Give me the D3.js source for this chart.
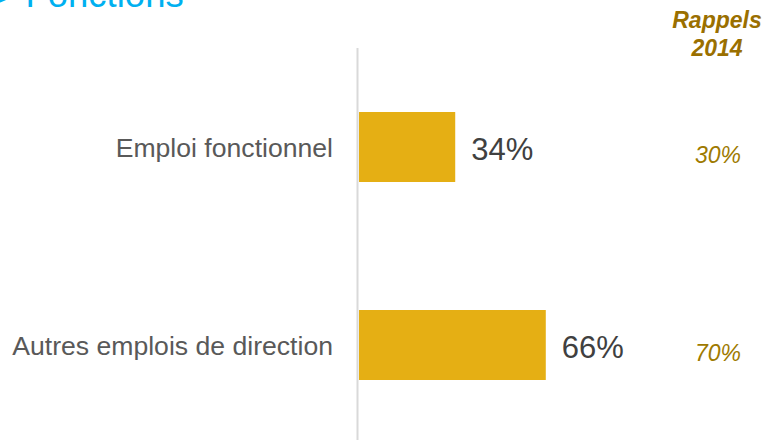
<!DOCTYPE html>
<html><head><meta charset="utf-8">
<script src="https://cdn.jsdelivr.net/npm/d3@7"></script>
<style>html,body{margin:0;padding:0;background:#fff;}svg{display:block;}</style>
</head><body>
<script>
const categories = ["Emploi fonctionnel", "Autres emplois de direction"];
const values2019 = [34, 66];
const rappels2014 = [30, 70];
const rappelsTitle = ["Rappels", "2014"];
const title = "> Fonctions";

const W = 767, H = 440;
const svg = d3.select("body").append("svg").attr("width", W).attr("height", H);
const font = "Arial, 'Liberation Sans', sans-serif";

const x = d3.scaleLinear().domain([0, 100]).range([359, 642]);
const y = d3.scaleBand().domain(categories).range([48, 444]).paddingInner(0.6465).paddingOuter(0.32325);

// title (cut off at top, as in the reference)
svg.append("text").attr("x", -6).attr("y", 7).attr("font-family", font).attr("font-size", 36.5)
  .attr("fill", "#00b0f0").text(title);

// axis line
svg.append("line").attr("x1", 357.5).attr("x2", 357.5).attr("y1", 48).attr("y2", 440)
  .attr("stroke", "#d9d9d9").attr("stroke-width", 2);

// bars
svg.selectAll("rect.bar").data(categories).enter().append("rect").attr("class", "bar")
  .attr("x", x(0)).attr("y", d => y(d))
  .attr("width", (d, i) => x(values2019[i]) - x(0)).attr("height", y.bandwidth())
  .attr("fill", "#e5af14");

// category labels
svg.selectAll("text.cat").data(categories).enter().append("text").attr("class", "cat")
  .attr("x", 333).attr("y", d => y(d) + y.bandwidth() / 2 + 9.5)
  .attr("text-anchor", "end").attr("font-family", font).attr("font-size", 26.6)
  .attr("fill", "#595959").text(d => d);

// value labels
svg.selectAll("text.val").data(categories).enter().append("text").attr("class", "val")
  .attr("x", (d, i) => x(values2019[i]) + 16).attr("y", d => y(d) + y.bandwidth() / 2 + 13)
  .attr("font-family", font).attr("font-size", 31)
  .attr("fill", "#404040").text((d, i) => values2019[i] + "%");

// rappels header
svg.selectAll("text.rh").data(rappelsTitle).enter().append("text").attr("class", "rh")
  .attr("x", 717).attr("y", (d, i) => 27.5 + i * 28.5)
  .attr("text-anchor", "middle").attr("font-family", font).attr("font-size", 23)
  .attr("font-weight", "bold").attr("font-style", "italic")
  .attr("fill", "#9a6f00").text(d => d);

// rappels values
svg.selectAll("text.rv").data(categories).enter().append("text").attr("class", "rv")
  .attr("x", 718).attr("y", d => y(d) + y.bandwidth() / 2 + 16)
  .attr("text-anchor", "middle").attr("font-family", font).attr("font-size", 23)
  .attr("font-style", "italic")
  .attr("fill", "#9e7a00").text((d, i) => rappels2014[i] + "%");
</script>
</body></html>
